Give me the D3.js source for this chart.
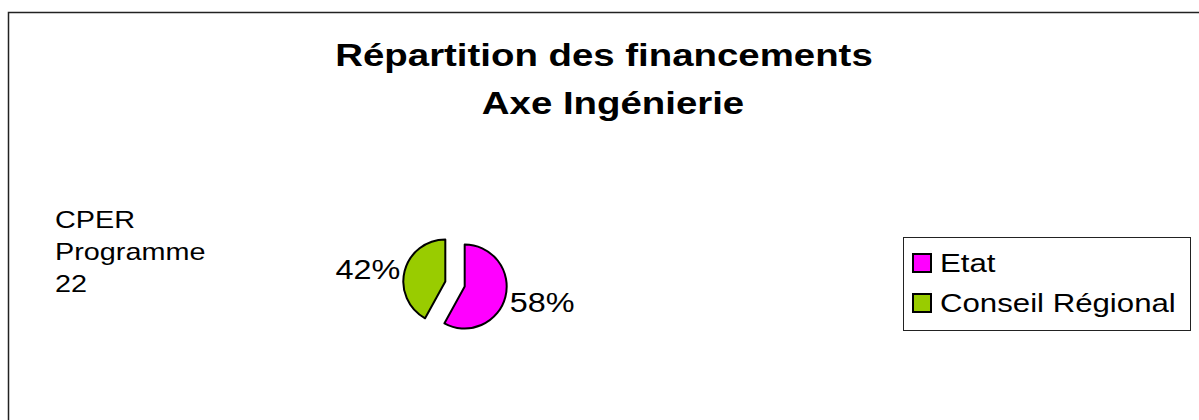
<!DOCTYPE html>
<html>
<head>
<meta charset="utf-8">
<script src="https://cdn.jsdelivr.net/npm/d3@7"></script>
<style>
  body { margin: 0; background: #fff; }
  text { font-family: "Liberation Sans", Arial, sans-serif; }
</style>
</head>
<body>
<div id="chart"></div>
<script>
// data
var categories = ['Etat', 'Conseil Régional'];
var values = [58, 42];
var colors = ['#FF00FF', '#99CC00'];
var titleLines = ['Répartition des financements', 'Axe Ingénierie'];
var sideLabel = ['CPER', 'Programme', '22'];

var w = 1199, h = 420;
var stretch = 1.2; // text in the original export is a bit wide

var svg = d3.select('div#chart').append('svg')
            .attr('width', w)
            .attr('height', h);

var at = function(x, y){ return 'translate(' + x + ',' + y + ') scale(' + stretch + ',1)'; };

// outer frame (runs past the right and bottom edges)
svg.append('rect')
   .attr('x', 8.5).attr('y', 12.5)
   .attr('width', w + 20).attr('height', h + 20)
   .attr('fill', 'none')
   .attr('stroke', '#222')
   .attr('stroke-width', 1.5);

// title (second line sits a little right, as in the original)
svg.append('g').selectAll('text').data(titleLines)
   .enter().append('text')
   .attr('transform', function(d, i){ return at(604 + i * 9, 66 + i * 48); })
   .attr('text-anchor', 'middle')
   .attr('font-size', 32)
   .attr('font-weight', 'bold')
   .text(function(d){ return d; });

// side label
svg.append('g').selectAll('text').data(sideLabel)
   .enter().append('text')
   .attr('transform', function(d, i){ return at(55, 228 + i * 32); })
   .attr('font-size', 24)
   .text(function(d){ return d; });

// pie
var cx = 455, cy = 284, r = 42, explode = 10;
var pie = d3.pie().sort(null).value(function(d){ return d; });
var arc = d3.arc().innerRadius(0).outerRadius(r);
var labelArc = d3.arc().innerRadius(r + 38).outerRadius(r + 38);

var slices = pie(values);
var total = d3.sum(values);

var pieG = svg.append('g').attr('transform', 'translate(' + cx + ',' + cy + ')');

var offset = function(d){
  var a = (d.startAngle + d.endAngle) / 2;
  return [Math.sin(a) * explode, -Math.cos(a) * explode];
};

pieG.selectAll('path').data(slices)
    .enter().append('path')
    .attr('transform', function(d){ var o = offset(d); return 'translate(' + o + ')'; })
    .attr('d', arc)
    .attr('fill', function(d, i){ return colors[i]; })
    .attr('stroke', '#000')
    .attr('stroke-width', 2)
    .attr('stroke-linejoin', 'round');

pieG.selectAll('text').data(slices)
    .enter().append('text')
    .attr('transform', function(d){
      var c = labelArc.centroid(d), o = offset(d);
      return at(c[0] + o[0], c[1] * 0.7 + o[1] + 2);
    })
    .attr('text-anchor', 'middle')
    .attr('dy', '0.35em')
    .attr('font-size', 27)
    .text(function(d){ return Math.round(d.value / total * 100) + '%'; });

// legend
var legend = svg.append('g');
legend.append('rect')
      .attr('x', 903.5).attr('y', 237.5)
      .attr('width', 287).attr('height', 93)
      .attr('fill', '#fff')
      .attr('stroke', '#222')
      .attr('stroke-width', 1);

var items = legend.selectAll('g.item').data(categories)
      .enter().append('g')
      .attr('class', 'item')
      .attr('transform', function(d, i){ return 'translate(913,' + (254 + i * 40) + ')'; });

items.append('rect')
     .attr('width', 18).attr('height', 18)
     .attr('fill', function(d, i){ return colors[i]; })
     .attr('stroke', '#000')
     .attr('stroke-width', 2);

items.append('text')
     .attr('transform', at(27, 18))
     .attr('font-size', 26)
     .text(function(d){ return d; });
</script>
</body>
</html>
